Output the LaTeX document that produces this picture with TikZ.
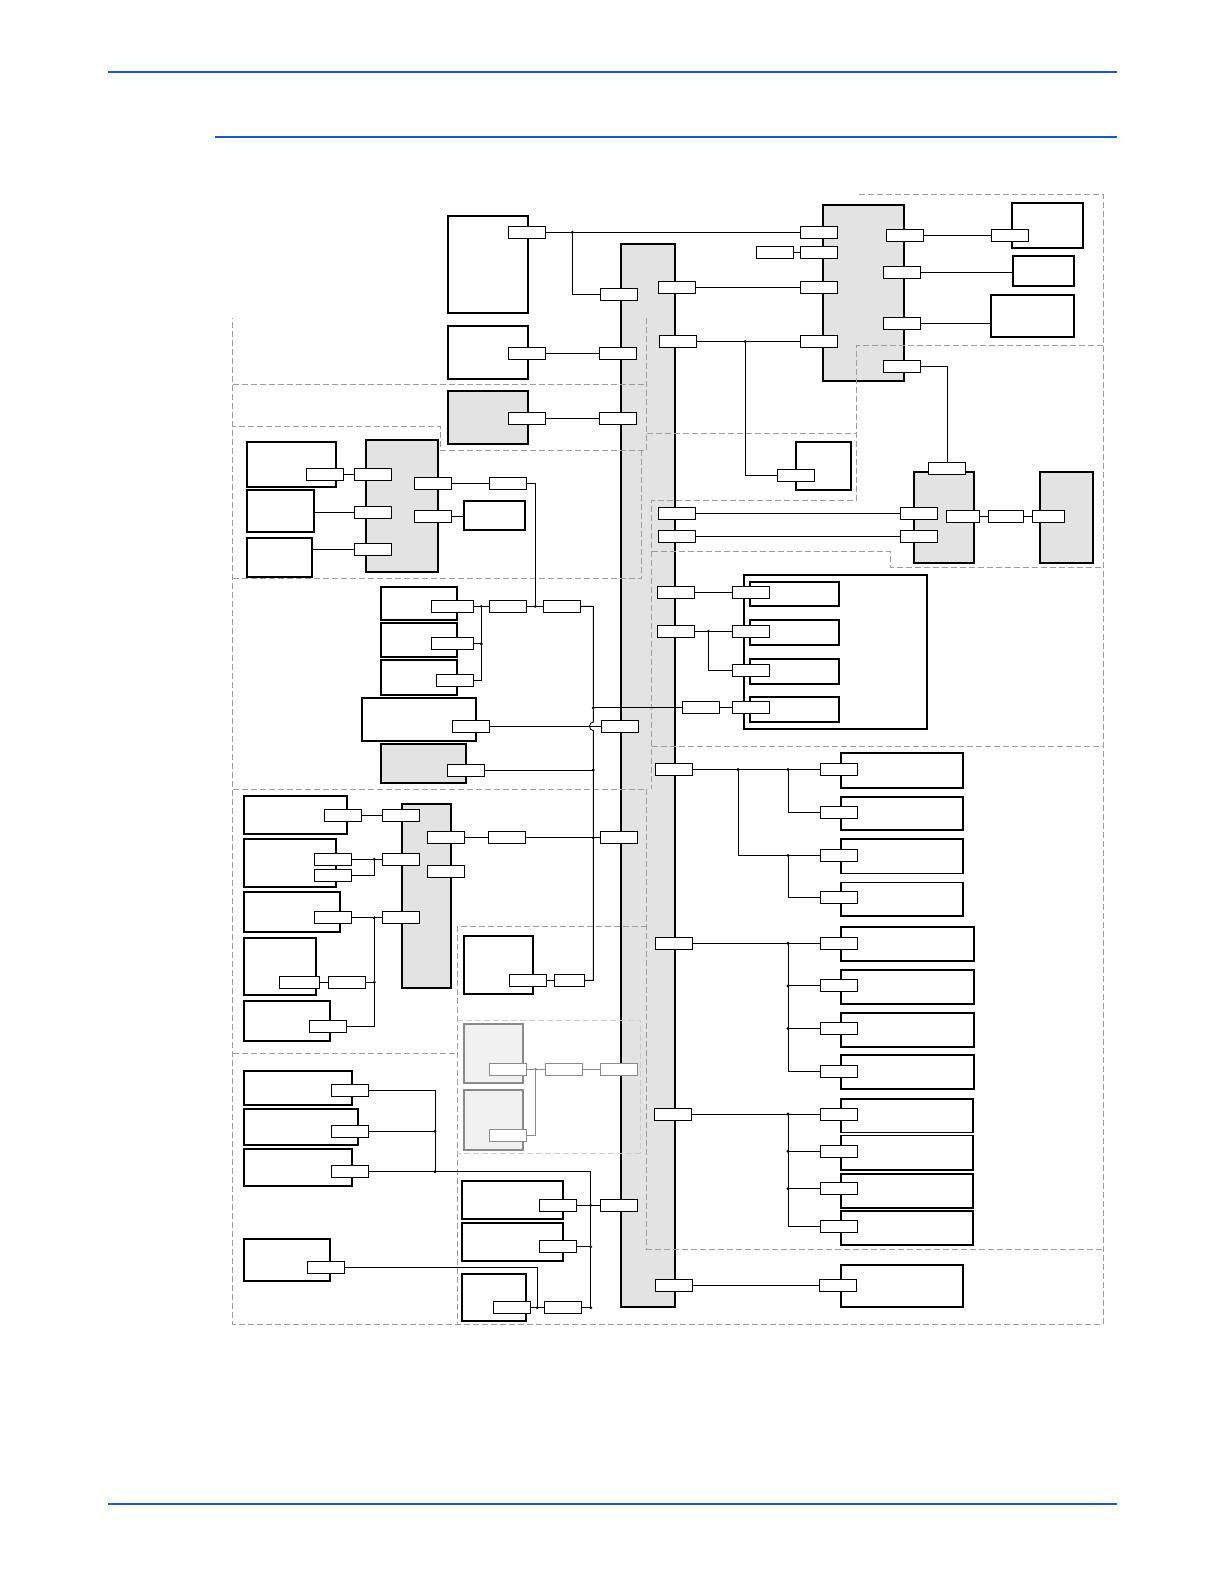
\documentclass[tikz,border=0pt]{standalone}
\usepackage{tikz}

\definecolor{hdrblue}{RGB}{22,92,186}
\definecolor{busgray}{HTML}{E3E3E3}
\definecolor{fadegray}{HTML}{F1F1F1}
\definecolor{fadeline}{HTML}{8A8A8A}
\definecolor{dashgray}{HTML}{9C9C9C}
\definecolor{lightdash}{HTML}{CBCBCB}

\tikzset{
  blk/.style={draw, line width=1.8pt, fill=white, inner sep=0pt, anchor=north west},
  busblk/.style={blk, fill=busgray},
  fadeblk/.style={blk, draw=fadeline, fill=fadegray},
  port/.style={draw, fill=white, line width=0.9pt, inner sep=0pt, minimum width=37pt, minimum height=12pt},
  fadeport/.style={port, draw=fadeline},
  wire/.style={line width=0.9pt},
  fadewire/.style={wire, draw=fadeline},
  region/.style={draw=dashgray, line width=1pt, dash pattern=on 6pt off 3pt},
  lightregion/.style={region, draw=lightdash},
  hdr/.style={draw=hdrblue, line width=1.8pt}
}

\newcommand{\blkbox}[6][blk]{\node[#1, minimum width={(#4-#2)*1pt}, minimum height={(#5-#3)*1pt}] (#6) at (#2,#3) {};}

\begin{document}
\begin{tikzpicture}[x=1pt, y=-1pt]
\useasboundingbox (0,0) rectangle (1224,1584);

\draw[hdr] (108,71.7) -- (1117,71.7);
\draw[hdr] (215,137.3) -- (1117,137.3);
\draw[hdr] (108,1503.8) -- (1117,1503.8);

% blocks
\blkbox[busblk]{620}{243.3}{674}{1306}{bus}
\blkbox{447.3}{215.3}{527}{312}{boxA}
\blkbox{446.7}{324.7}{527}{378}{boxB}
\blkbox[busblk]{446.7}{390}{527}{443}{boxC}
\blkbox[busblk]{821.7}{203.7}{903}{379.7}{trbus}
\blkbox{1010.7}{201.7}{1082.3}{247}{rb1}
\blkbox{1011.7}{254.7}{1073}{285}{rb2}
\blkbox{990.3}{294.3}{1073}{336}{rb3}
\blkbox{794.7}{440.7}{850}{489}{sb}
\blkbox[busblk]{912.7}{470.7}{973}{561.7}{rm}
\blkbox[busblk]{1038.7}{470.7}{1092.3}{561.7}{re}
\blkbox{742.7}{573.7}{926}{728}{frame}
\blkbox{749.3}{580.7}{838.3}{605}{in1}
\blkbox{749.3}{618.7}{838.3}{644}{in2}
\blkbox{749.3}{657.7}{838.3}{683}{in3}
\blkbox{749.3}{695.7}{838.3}{721}{in4}
\blkbox{245.7}{440.7}{335.3}{486}{l1}
\blkbox{245.7}{488.7}{313.3}{531}{l2}
\blkbox{245.7}{536.7}{311.3}{576}{l3}
\blkbox[busblk]{364.7}{438.7}{437.3}{571}{lb}
\blkbox{462.7}{499.7}{524}{529}{l4}
\blkbox{379.7}{585.7}{456}{619}{s1}
\blkbox{379.7}{622.3}{456}{656}{s2}
\blkbox{379.7}{659.3}{456}{694}{s3}
\blkbox{360.7}{696.7}{475.3}{740}{s4}
\blkbox[busblk]{379.7}{743.3}{465}{781.7}{s5}
\blkbox{242.7}{794.7}{346}{832.7}{m1}
\blkbox{242.7}{837.7}{335.3}{886}{m2}
\blkbox{242.7}{890.7}{339.3}{931}{m3}
\blkbox{242.7}{936.7}{315}{994}{m4}
\blkbox{242.7}{999.7}{329.3}{1040}{m5}
\blkbox[busblk]{400.7}{802.7}{450.3}{987}{mb}
\blkbox{462.7}{934.7}{532}{993}{n1}
\blkbox[fadeblk]{462.7}{1023.3}{522.3}{1082.3}{f1}
\blkbox[fadeblk]{462.7}{1088.7}{522.3}{1149}{f2}
\blkbox{242.7}{1069.7}{351.3}{1104}{q1}
\blkbox{242.7}{1107.7}{357.3}{1144}{q2}
\blkbox{242.7}{1148.3}{351.3}{1185}{q3}
\blkbox{242.7}{1237.7}{329.3}{1280}{q4}
\blkbox{460.7}{1180}{562.3}{1218.3}{t1}
\blkbox{460.7}{1221.7}{562.3}{1260}{t2}
\blkbox{460.7}{1272.7}{525.3}{1320}{t3}
\blkbox{839.7}{752.4}{962}{786.7}{g1a}
\blkbox{839.7}{795.8}{962}{829.1}{g1b}
\blkbox{839.7}{838.2}{962}{872.6}{g1c}
\blkbox{839.7}{881.6}{962}{915}{g1d}
\blkbox{839.7}{925.7}{973}{960}{g2a}
\blkbox{839.7}{969}{973}{1002.9}{g2b}
\blkbox{839.7}{1011.9}{973}{1045.8}{g2c}
\blkbox{839.7}{1054.4}{973}{1087.9}{g2d}
\blkbox{839.7}{1097.7}{972.3}{1131.6}{g3a}
\blkbox{839.7}{1134.6}{972.3}{1168.8}{g3b}
\blkbox{839.7}{1173}{972.3}{1206.9}{g3c}
\blkbox{839.7}{1209.9}{972.3}{1244.1}{g3d}
\blkbox{839.7}{1264.4}{962}{1305.8}{g4}

% groups
\draw[region] (859,194) -- (1103,194) -- (1103,1324) -- (232.7,1324) -- (232.7,318);
\draw[region] (232.7,384) -- (646.7,384);
\draw[region] (646.7,318) -- (646.7,450) -- (440,450) -- (440,426) -- (232.7,426);
\draw[region] (646.7,433.3) -- (856.7,433.3);
\draw[region] (1103,345) -- (856.7,345) -- (856.7,500) -- (651.7,500) -- (651.7,789.3);
\draw[region] (641.7,450) -- (641.7,578.3) -- (232.7,578.3);
\draw[region] (651.7,551.7) -- (890,551.7) -- (890,567.7) -- (1103,567.7);
\draw[region] (651.7,746.6) -- (1103,746.6);
\draw[region] (232.7,789.3) -- (646.7,789.3) -- (646.7,1249.4) -- (1103,1249.4);
\draw[region] (646.7,926.7) -- (457.3,926.7) -- (457.3,1324);
\draw[region] (232.7,1053.3) -- (457.3,1053.3);
\draw[lightregion] (457.3,1020) -- (640,1020) -- (640,1153.3) -- (457.3,1153.3);

% ports
\node[port] (pA) at (527.3,232.3) {};
\node[port] (pB) at (526.8,353.3) {};
\node[port] (pC) at (526.8,418.3) {};
\node[port] (bl1) at (618.8,294.7) {};
\node[port] (bl2) at (617.8,353.3) {};
\node[port] (bl3) at (617.8,418.3) {};
\node[port] (trl1) at (818.8,232.3) {};
\node[port] (trl2) at (818.8,252.8) {};
\node[port] (trl3) at (818.8,287.5) {};
\node[port] (trl4) at (818.8,341.5) {};
\node[port] (trx) at (774.8,252.8) {};
\node[port] (trr1) at (904.8,235.3) {};
\node[port] (trr2) at (901.8,272.8) {};
\node[port] (trr3) at (901.8,323.3) {};
\node[port] (trr4) at (901.8,366.3) {};
\node[port] (rb1p) at (1010.3,235.3) {};
\node[port] (br1) at (677,287.5) {};
\node[port] (br2) at (678.3,341.5) {};
\node[port] (sbp) at (796.3,475.3) {};
\node[port] (rmt) at (947,468.8) {};
\node[port] (rml1) at (918.8,513.5) {};
\node[port] (rml2) at (918.8,536.8) {};
\node[port] (br3) at (677,513.5) {};
\node[port] (br4) at (677,536.8) {};
\node[port, minimum width=33pt] (rmr) at (963,516.8) {};
\node[port, minimum width=35pt] (rex) at (1005.8,516.8) {};
\node[port, minimum width=32pt] (rep) at (1048.3,516.8) {};
\node[port] (br5) at (675.8,592.8) {};
\node[port] (br6) at (675.8,631.3) {};
\node[port] (inp1) at (750.8,592.8) {};
\node[port] (inp2) at (750.8,631.3) {};
\node[port] (inp3) at (750.8,670.3) {};
\node[port] (inp4) at (750.8,707.8) {};
\node[port] (inx) at (700.8,707.8) {};
\node[port] (l1p) at (324.8,474.3) {};
\node[port] (lbl1) at (372.8,474.3) {};
\node[port] (lbl2) at (372.8,512.3) {};
\node[port] (lbl3) at (372.8,549.3) {};
\node[port] (lbr1) at (432.8,483.3) {};
\node[port] (lbr2) at (432.8,516.3) {};
\node[port] (lbx) at (507.8,483.3) {};
\node[port, minimum width=42pt] (s1p) at (452.3,606.3) {};
\node[port, minimum width=42pt] (s2p) at (452.3,643.7) {};
\node[port] (s3p) at (454.8,680) {};
\node[port] (sx1) at (507.8,606.3) {};
\node[port] (sx2) at (561.8,606.3) {};
\node[port] (s4p) at (471,726.3) {};
\node[port] (bl4) at (620,726.3) {};
\node[port] (s5p) at (465.8,770) {};
\node[port] (m1p) at (343.3,815.3) {};
\node[port] (mbl1) at (401.3,815.3) {};
\node[port] (mbl2) at (401.3,859.3) {};
\node[port] (mbl3) at (401.3,917.8) {};
\node[port] (m2pa) at (332.8,859.3) {};
\node[port] (m2pb) at (332.8,875.8) {};
\node[port] (m3p) at (332.8,917.8) {};
\node[port, minimum width=40pt] (m4p) at (299.3,982.3) {};
\node[port] (m4x) at (346.8,982.3) {};
\node[port] (m5p) at (327.8,1026.3) {};
\node[port] (mbr1) at (445.8,837.8) {};
\node[port] (mbr2) at (445.8,871.3) {};
\node[port] (mbx) at (507.3,837.8) {};
\node[port] (bl5) at (618.8,837.8) {};
\node[port] (n1p) at (528.3,980.3) {};
\node[port, minimum width=30pt] (n1x) at (569.3,980.3) {};
\node[fadeport] (f1p) at (507.8,1069.3) {};
\node[fadeport] (f2p) at (507.8,1135.7) {};
\node[fadeport] (fx) at (563.8,1069.3) {};
\node[fadeport] (bl6) at (618.8,1069.3) {};
\node[port] (q1p) at (349.8,1090.8) {};
\node[port] (q2p) at (349.8,1131.3) {};
\node[port] (q3p) at (349.8,1171.8) {};
\node[port] (q4p) at (325.8,1267.3) {};
\node[port] (t1p) at (557.8,1205.3) {};
\node[port] (bl7) at (618.8,1205.3) {};
\node[port] (t2p) at (557.8,1246.8) {};
\node[port] (t3p) at (511.8,1307.7) {};
\node[port] (t3x) at (562.8,1307.7) {};
\node[port] (br7) at (674,769.5) {};
\node[port] (g1p1) at (838.8,769.5) {};
\node[port] (g1p2) at (838.8,812) {};
\node[port] (g1p3) at (838.8,855.4) {};
\node[port] (g1p4) at (838.8,897.8) {};
\node[port] (br8) at (674,943.2) {};
\node[port] (g2p1) at (838.8,943.2) {};
\node[port] (g2p2) at (838.8,985.9) {};
\node[port] (g2p3) at (838.8,1028.5) {};
\node[port] (g2p4) at (838.8,1071.4) {};
\node[port] (br9) at (673,1114) {};
\node[port] (g3p1) at (838.8,1114) {};
\node[port] (g3p2) at (838.8,1151.2) {};
\node[port] (g3p3) at (838.8,1188.8) {};
\node[port] (g3p4) at (838.8,1226.4) {};
\node[port] (br10) at (674,1285.9) {};
\node[port] (g4p) at (837.8,1285.9) {};

% wires
\draw[wire] (pA.east) -- (trl1.west);
\draw[wire] (572.3,232.3) |- (bl1.west);
\draw[wire] (pB.east) -- (bl2.west);
\draw[wire] (pC.east) -- (bl3.west);
\draw[wire] (trx.east) -- (trl2.west);
\draw[wire] (br1.east) -- (trl3.west);
\draw[wire] (br2.east) -- (trl4.west);
\draw[wire] (745.3,341.5) |- (sbp.west);
\draw[wire] (trr1.east) -- (rb1p.west);
\draw[wire] (trr2.east) -- (trr2.east -| rb2.west);
\draw[wire] (trr3.east) -- (trr3.east -| rb3.west);
\draw[wire] (trr4.east) -| (rmt.north);
\draw[wire] (br3.east) -- (rml1.west);
\draw[wire] (br4.east) -- (rml2.west);
\draw[wire] (rmr.east) -- (rex.west);
\draw[wire] (rex.east) -- (rep.west);
\draw[wire] (br5.east) -- (inp1.west);
\draw[wire] (br6.east) -- (inp2.west);
\draw[wire] (708.3,631.3) |- (inp3.west);
\draw[wire] (593.3,707.8) -- (inx.west);
\draw[wire] (inx.east) -- (inp4.west);
\draw[wire] (l1p.east) -- (lbl1.west);
\draw[wire] (l2.east |- lbl2) -- (lbl2.west);
\draw[wire] (l3.east |- lbl3) -- (lbl3.west);
\draw[wire] (lbr1.east) -- (lbx.west);
\draw[wire] (lbx.east) -| (535.3,606.3);
\draw[wire] (lbr2.east) -- (lbr2.east -| l4.west);
\draw[wire] (s1p.east) -- (sx1.west);
\draw[wire] (sx1.east) -- (sx2.west);
\draw[wire] (sx2.east) -- (593.3,606.3) -- (593.3,722)
  .. controls (588.3,722) and (588.3,730.6) .. (593.3,730.6) -- (593.3,980.3) -- (n1x.east);
\draw[wire] (s2p.east) -- (481.3,643.7);
\draw[wire] (s3p.east) -| (481.3,606.3);
\draw[wire] (s4p.east) -- (bl4.west);
\draw[wire] (s5p.east) -- (593.3,770);
\draw[wire] (m1p.east) -- (mbl1.west);
\draw[wire] (m2pa.east) -- (mbl2.west);
\draw[wire] (m2pb.east) -| (374.3,859.3);
\draw[wire] (m3p.east) -- (mbl3.west);
\draw[wire] (m4p.east) -- (m4x.west);
\draw[wire] (m4x.east) -- (374.3,982.3);
\draw[wire] (m5p.east) -| (374.3,917.8);
\draw[wire] (mbr1.east) -- (mbx.west);
\draw[wire] (mbx.east) -- (bl5.west);
\draw[wire] (n1p.east) -- (n1x.west);
\draw[fadewire] (f1p.east) -- (fx.west);
\draw[fadewire] (fx.east) -- (bl6.west);
\draw[fadewire] (f2p.east) -| (535.7,1069.3);
\draw[wire] (q1p.east) -| (435,1171.8);
\draw[wire] (q2p.east) -- (435,1131.3);
\draw[wire] (q3p.east) -- (590.7,1171.8) -- (590.7,1307.7) -- (t3x.east);
\draw[wire] (t1p.east) -- (bl7.west);
\draw[wire] (t2p.east) -- (590.7,1246.8);
\draw[wire] (t3p.east) -- (t3x.west);
\draw[wire] (q4p.east) -| (537.3,1307.7);
\draw[wire] (br7.east) -- (g1p1.west);
\draw[wire] (738,769.5) |- (g1p3.west);
\draw[wire] (788,769.5) |- (g1p2.west);
\draw[wire] (788,855.4) |- (g1p4.west);
\draw[wire] (br8.east) -- (g2p1.west);
\draw[wire] (788,943.2) |- (g2p4.west);
\draw[wire] (788,985.9) -- (g2p2.west);
\draw[wire] (788,1028.5) -- (g2p3.west);
\draw[wire] (br9.east) -- (g3p1.west);
\draw[wire] (788,1114) |- (g3p4.west);
\draw[wire] (788,1151.2) -- (g3p2.west);
\draw[wire] (788,1188.8) -- (g3p3.west);
\draw[wire] (br10.east) -- (g4p.west);

\foreach \p in {(572.3,232.3), (745.3,341.5), (708.3,631.3), (535.3,606.3),
  (481.3,606.3), (481.3,643.7), (593.3,707.8), (593.3,770), (593.3,837.8),
  (374.3,859.3), (374.3,917.8), (374.3,982.3), (435,1131.3), (435,1171.8),
  (590.7,1205.3), (590.7,1246.8), (537.3,1307.7), (590.7,1307.7),
  (738,769.5), (788,769.5), (788,855.4), (788,943.2), (788,985.9), (788,1028.5),
  (788,1114), (788,1151.2), (788,1188.8)}
  \fill \p circle (1.6);
\fill[fadeline] (535.7,1069.3) circle (1.6);
\end{tikzpicture}
\end{document}
